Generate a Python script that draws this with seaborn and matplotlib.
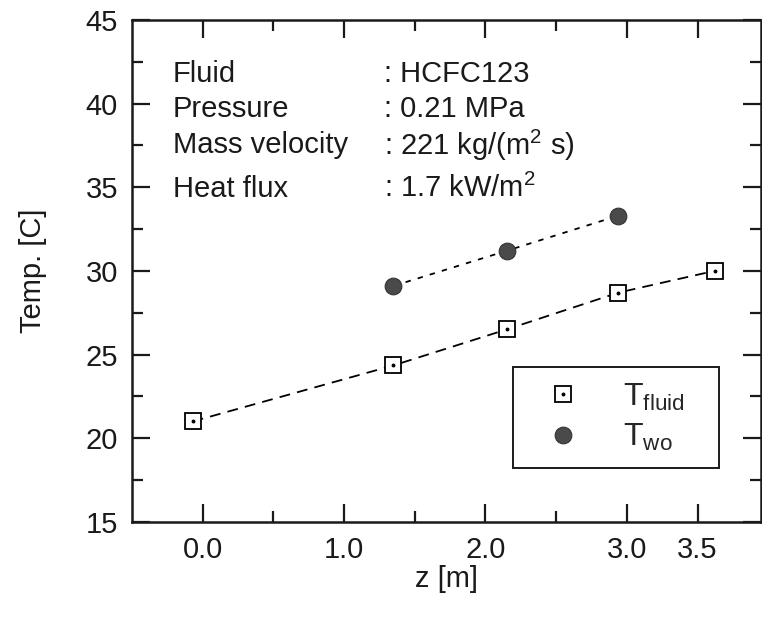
import numpy as np
import pandas as pd
import matplotlib
matplotlib.use('Agg')
import matplotlib.pyplot as plt
import seaborn as sns
from matplotlib.lines import Line2D
from matplotlib.legend_handler import HandlerTuple

# data
z_fluid = [-0.07, 1.35, 2.15, 2.94, 3.62]
t_fluid = [21.0, 24.35, 26.5, 28.7, 30.0]
z_wo = [1.35, 2.15, 2.94]
t_wo = [29.1, 31.2, 33.3]

x_ticks = [0.0, 1.0, 2.0, 3.0, 3.5]
x_tick_labels = ['0.0', '1.0', '2.0', '3.0', '3.5']
x_minor = [0.5, 1.5, 2.5]

info_keys = ['Fluid', 'Pressure', 'Mass velocity', 'Heat flux']
info_vals = [': HCFC123', ': 0.21 MPa', ': 221 kg/(m$^2$ s)', ': 1.7 kW/m$^2$']
info_y = [41.75, 39.7, 37.5, 34.9]

sns.set_theme(style='ticks')
plt.rcParams['font.family'] = ['Liberation Sans', 'DejaVu Sans']
plt.rcParams['mathtext.fontset'] = 'custom'
plt.rcParams['mathtext.rm'] = 'Liberation Sans'
plt.rcParams['mathtext.it'] = 'Liberation Sans'

df_fluid = pd.DataFrame({'z': z_fluid, 'T': t_fluid})
df_wo = pd.DataFrame({'z': z_wo, 'T': t_wo})

fig = plt.figure(figsize=(7.62, 6.22), dpi=100)
fig.patch.set_facecolor('white')
ax = fig.add_axes([0.173, 0.161, 0.826, 0.807])

fs = 21
ink = '#1a1a1a'

# lines
sns.lineplot(data=df_fluid, x='z', y='T', ax=ax, color='black', lw=1.3,
             linestyle=(0, (6, 4)), marker='s', markersize=12,
             markerfacecolor='white', markeredgecolor='black', markeredgewidth=1.3)
ax.plot(df_fluid.z, df_fluid['T'], ls='none', marker='o', markersize=1.8, color='black')
sns.lineplot(data=df_wo, x='z', y='T', ax=ax, color='black', lw=1.3,
             linestyle=(0, (3, 4)), marker='o', markersize=12,
             markerfacecolor='#4a4a4a', markeredgecolor='#333333', markeredgewidth=0.8)

ax.set_xlim(-0.5, 3.95)
ax.set_ylim(15, 45)
ax.set_xticks(x_ticks)
ax.set_xticklabels(x_tick_labels)
ax.set_xticks(x_minor, minor=True)
ax.set_yticks(np.arange(15, 46, 5))
ax.set_yticks(np.arange(17.5, 45, 5), minor=True)

for s in ax.spines.values():
    s.set_visible(True)
    s.set_linewidth(1.8)
    s.set_color(ink)

ax.tick_params(which='both', direction='in', top=True, right=True, colors=ink,
               labelsize=fs, pad=10)
ax.tick_params(which='major', length=13, width=1.6)
ax.tick_params(which='minor', length=8, width=1.6)

ax.set_xlabel('z [m]', fontsize=fs, labelpad=1, color=ink)
ax.set_ylabel('Temp. [C]', fontsize=fs, labelpad=28, color=ink)

for k, v, y in zip(info_keys, info_vals, info_y):
    ax.text(-0.21, y, k, fontsize=fs, va='center', ha='left', color=ink)
    ax.text(1.28, y, v, fontsize=fs, va='center', ha='left', color=ink)

h_fluid = (Line2D([], [], ls='none', marker='s', markersize=12, markerfacecolor='white',
                  markeredgecolor='black', markeredgewidth=1.3),
           Line2D([], [], ls='none', marker='o', markersize=1.8, color='black'))
h_wo = Line2D([], [], ls='none', marker='o', markersize=12, markerfacecolor='#4a4a4a',
              markeredgecolor='#333333', markeredgewidth=0.8)
leg = ax.legend([h_fluid, h_wo], [r'T$_{\mathrm{fluid}}$', r'T$_{\mathrm{wo}}$'],
                handler_map={tuple: HandlerTuple(ndivide=1)},
                loc='upper left', bbox_to_anchor=(0.6057, 0.1, 0.327, 0.208),
                mode='expand', fontsize=23,
                frameon=True, fancybox=False, framealpha=1, edgecolor=ink,
                borderpad=0.45, handletextpad=0.8, labelspacing=0.3, handlelength=2.2,
                borderaxespad=0)
leg.get_frame().set_linewidth(1.4)

plt.savefig('out.png', dpi=100)
plt.close()
